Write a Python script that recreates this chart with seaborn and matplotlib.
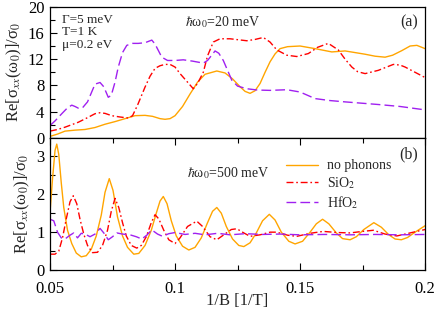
import numpy as np
import pandas as pd
import matplotlib
matplotlib.use("Agg")
import matplotlib.pyplot as plt
import seaborn as sns
from matplotlib.ticker import MultipleLocator, FuncFormatter

# --- panel (a): hbar*omega0 = 20 meV ---
a_nophon_x = [0.050, 0.053, 0.056, 0.060, 0.064, 0.068, 0.072, 0.076, 0.080, 0.084,
              0.088, 0.091, 0.094, 0.096, 0.098, 0.100, 0.103, 0.106, 0.109, 0.112,
              0.1167, 0.120, 0.123, 0.126, 0.128, 0.130, 0.132, 0.134, 0.136, 0.138,
              0.140, 0.142, 0.145, 0.150, 0.156, 0.1627, 0.168, 0.172, 0.176, 0.180,
              0.184, 0.187, 0.1907, 0.194, 0.1967, 0.200]
a_nophon_y = [0.25, 0.6, 1.05, 1.2, 1.3, 1.6, 2.1, 2.5, 2.95, 3.4,
              3.45, 3.3, 2.95, 2.85, 2.95, 3.4, 4.8, 6.7, 8.5, 9.7,
              10.2, 9.9, 9.0, 7.8, 7.1, 6.8, 7.2, 8.3, 10.0, 11.6,
              12.8, 13.6, 13.9, 14.0, 13.6, 13.1, 13.25, 13.0, 12.75, 12.45,
              12.3, 12.6, 13.3, 14.0, 14.1, 13.6]

a_sio2_x = [0.050, 0.053, 0.056, 0.0613, 0.065, 0.068, 0.070, 0.072, 0.0747, 0.078,
            0.0813, 0.083, 0.085, 0.088, 0.090, 0.092, 0.094, 0.096, 0.098, 0.100,
            0.102, 0.105, 0.1073, 0.109, 0.1113, 0.113, 0.1153, 0.118, 0.122, 0.1287,
            0.132, 0.1353, 0.138, 0.1407, 0.1447, 0.1487, 0.1533, 0.157, 0.1613, 0.1653,
            0.168, 0.1707, 0.173, 0.176, 0.1813, 0.1873, 0.190, 0.192, 0.196, 0.200]
a_sio2_y = [1.05, 1.3, 1.65, 2.4, 3.1, 3.7, 3.85, 3.75, 3.4, 3.2,
            3.05, 3.4, 5.0, 7.75, 9.4, 10.6, 11.0, 11.2, 11.2, 10.8,
            9.8, 8.5, 7.5, 8.3, 10.0, 12.5, 14.6, 15.1, 15.1, 14.8,
            15.0, 15.3, 14.6, 13.4, 12.6, 12.4, 12.85, 13.8, 14.4, 13.4,
            12.0, 10.8, 10.1, 9.8, 10.3, 11.2, 11.1, 10.8, 10.0, 9.2]

a_hfo2_x = [0.050, 0.052, 0.0547, 0.057, 0.0587, 0.060, 0.0613, 0.063, 0.065, 0.068,
            0.070, 0.0715, 0.0733, 0.0745, 0.076, 0.0773, 0.079, 0.0807, 0.083, 0.0853,
            0.088, 0.0907, 0.092, 0.0947, 0.097, 0.100, 0.1033, 0.107, 0.1113, 0.113,
            0.116, 0.1175, 0.1193, 0.1227, 0.125, 0.1287, 0.133, 0.138, 0.1447, 0.150,
            0.156, 0.162, 0.168, 0.1813, 0.190, 0.1987, 0.200]
a_hfo2_y = [1.9, 2.6, 3.7, 4.6, 5.0, 4.8, 4.55, 4.6, 5.5, 8.2,
            8.45, 7.8, 6.2, 6.5, 8.5, 10.8, 13.0, 14.1, 14.4, 14.4,
            14.5, 14.9, 14.3, 12.3, 11.8, 11.8, 11.9, 11.7, 11.4, 11.8,
            13.25, 12.9, 11.8, 8.8, 7.9, 7.5, 7.3, 7.25, 7.35, 7.0,
            6.0, 5.7, 5.5, 5.1, 4.8, 4.35, 4.3]

# --- panel (b): hbar*omega0 = 500 meV ---
b_nophon_x = [0.0500, 0.0510, 0.0520, 0.0527, 0.0535, 0.0545, 0.0555, 0.0570, 0.0587, 0.0605,
              0.0625, 0.0645, 0.0665, 0.0685, 0.0705, 0.0720, 0.0737, 0.0752, 0.0770, 0.0790,
              0.0810, 0.0835, 0.0855, 0.0880, 0.0905, 0.0925, 0.0940, 0.0953, 0.0968, 0.0985,
              0.1005, 0.1030, 0.1055, 0.1080, 0.1105, 0.1130, 0.1150, 0.1167, 0.1185, 0.1205,
              0.1230, 0.1255, 0.1275, 0.1300, 0.1325, 0.1350, 0.1377, 0.1400, 0.1425, 0.1455,
              0.1480, 0.1510, 0.1540, 0.1565, 0.1590, 0.1615, 0.1645, 0.1670, 0.1700, 0.1725,
              0.1755, 0.1795, 0.1825, 0.1855, 0.1880, 0.1905, 0.1930, 0.1960, 0.2000]
b_nophon_y = [1.52, 2.4, 3.15, 3.32, 3.05, 2.3, 1.65, 1.05, 0.7, 0.45,
              0.35, 0.38, 0.55, 0.9, 1.45, 2.05, 2.41, 2.1, 1.4, 0.9,
              0.6, 0.42, 0.44, 0.65, 1.05, 1.5, 1.82, 1.94, 1.75, 1.3,
              0.9, 0.63, 0.53, 0.6, 0.85, 1.25, 1.55, 1.65, 1.5, 1.15,
              0.82, 0.65, 0.62, 0.72, 0.98, 1.3, 1.47, 1.32, 1.0, 0.76,
              0.69, 0.76, 1.0, 1.22, 1.34, 1.22, 0.98, 0.83, 0.80, 0.88,
              1.07, 1.25, 1.13, 0.93, 0.82, 0.80, 0.86, 1.0, 1.17]

b_sio2_x = [0.0500, 0.0520, 0.0535, 0.0550, 0.0565, 0.0580, 0.0593, 0.0607, 0.0620, 0.0635,
            0.0650, 0.0670, 0.0690, 0.0710, 0.0730, 0.0745, 0.0760, 0.0775, 0.0790, 0.0805,
            0.0825, 0.0847, 0.0865, 0.0885, 0.0905, 0.0920, 0.0935, 0.0955, 0.0975, 0.1000,
            0.1020, 0.1050, 0.1087, 0.1110, 0.1140, 0.1167, 0.1195, 0.1225, 0.1247, 0.1275,
            0.1300, 0.1340, 0.1380, 0.1407, 0.1450, 0.1487, 0.1540, 0.1593, 0.1650, 0.1700,
            0.1750, 0.1793, 0.1840, 0.1887, 0.1940, 0.2000]
b_sio2_y = [0.42, 0.42, 0.5, 0.85, 1.35, 1.8, 1.96, 1.75, 1.34, 0.95,
            0.65, 0.46, 0.47, 0.65, 1.05, 1.55, 1.89, 1.65, 1.25, 0.9,
            0.65, 0.58, 0.65, 0.88, 1.25, 1.46, 1.35, 1.05, 0.8, 0.7,
            0.85, 1.15, 1.29, 1.15, 0.88, 0.8, 0.93, 1.07, 1.09, 0.98,
            0.89, 0.93, 1.0, 1.0, 0.92, 0.89, 0.97, 1.02, 0.99, 0.98,
            1.02, 1.05, 0.95, 0.9, 0.98, 1.07]

b_hfo2_x = [0.0500, 0.0515, 0.0530, 0.0545, 0.0560, 0.0580, 0.0595, 0.0610, 0.0625, 0.0640,
            0.0660, 0.0680, 0.0700, 0.0715, 0.0733, 0.0750, 0.0767, 0.0790, 0.0820, 0.0845,
            0.0867, 0.0887, 0.0907, 0.0930, 0.0950, 0.0975, 0.1000, 0.1040, 0.1080, 0.1120,
            0.1170, 0.1220, 0.1280, 0.1350, 0.1420, 0.1500, 0.1600, 0.1700, 0.1800, 0.1900,
            0.2000]
b_hfo2_y = [1.34, 1.30, 1.0, 0.85, 0.82, 0.92, 0.98, 0.85, 0.97, 0.95,
            0.88, 0.95, 1.10, 0.98, 0.80, 0.88, 0.98, 0.95, 0.93, 0.88,
            0.82, 0.92, 1.06, 0.95, 0.89, 0.96, 0.99, 0.94, 0.97, 0.93,
            0.97, 0.93, 0.96, 0.94, 0.95, 0.93, 0.94, 0.93, 0.94, 0.93,
            0.94]

labels = ["no phonons", "SiO$_2$", "HfO$_2$"]
colors = ["#FFA500", "#FF0000", "#A020F0"]
styles = ["-", (0, (5, 2, 1.2, 2)), (0, (7, 3))]

sns.set_style("ticks")
plt.rcParams["font.family"] = ["Liberation Serif", "DejaVu Serif"]
plt.rcParams["mathtext.fontset"] = "stix"
plt.rcParams["axes.linewidth"] = 0.9

fig = plt.figure(figsize=(4.36, 3.13), dpi=100)
ax1 = fig.add_axes([0.1147, 0.559, 0.8603, 0.420])
ax2 = fig.add_axes([0.1147, 0.137, 0.8603, 0.422])

panel_a = [(a_nophon_x, a_nophon_y), (a_sio2_x, a_sio2_y), (a_hfo2_x, a_hfo2_y)]
panel_b = [(b_nophon_x, b_nophon_y), (b_sio2_x, b_sio2_y), (b_hfo2_x, b_hfo2_y)]

for (xs, ys), c, ls in zip(panel_a, colors, styles):
    df = pd.DataFrame({"x": xs, "y": ys})
    sns.lineplot(data=df, x="x", y="y", ax=ax1, color=c, linestyle=ls,
                 linewidth=1.0, estimator=None, sort=False, legend=False)

for (xs, ys), c, ls, lab in zip(panel_b, colors, styles, labels):
    df = pd.DataFrame({"x": xs, "y": ys})
    sns.lineplot(data=df, x="x", y="y", ax=ax2, color=c, linestyle=ls,
                 linewidth=1.0, estimator=None, sort=False, label=lab)

fmt = FuncFormatter(lambda v, p: f"{v:g}")
for ax in (ax1, ax2):
    ax.set_xlim(0.05, 0.2)
    ax.xaxis.set_major_locator(MultipleLocator(0.05))
    ax.xaxis.set_minor_locator(MultipleLocator(0.025))
    ax.xaxis.set_major_formatter(fmt)
    ax.tick_params(which="both", direction="in", colors="black", labelsize=12)
    ax.tick_params(which="major", length=5, width=0.8)
    ax.tick_params(which="minor", length=3.5, width=0.8)
    ax.tick_params(axis="y", pad=4)
    ax.tick_params(axis="x", pad=8)
    ax.set_ylabel("Re[σ$_{xx}$(ω$_0$)]/σ$_0$", fontsize=12, labelpad=3)
    for s in ax.spines.values():
        s.set_color("black")

ax1.set_ylim(0, 20)
ax1.yaxis.set_major_locator(MultipleLocator(4))
ax1.yaxis.set_minor_locator(MultipleLocator(2))
ax1.tick_params(axis="x", which="both", bottom=False, labelbottom=False)
ax1.set_xlabel("")

ax2.set_ylim(0, 3.48)
ax2.yaxis.set_major_locator(MultipleLocator(1))
ax2.yaxis.set_minor_locator(MultipleLocator(0.5))
ax2.tick_params(axis="x", which="both", top=True)
ax2.set_xlabel("1/B [1/T]", fontsize=12, labelpad=-3)

ax1.text(0.031, 0.90, "Γ=5 meV", transform=ax1.transAxes, fontsize=9.5, va="center")
ax1.text(0.031, 0.805, "T=1 K", transform=ax1.transAxes, fontsize=9.5, va="center")
ax1.text(0.031, 0.71, "μ=0.2 eV", transform=ax1.transAxes, fontsize=9.5, va="center")
ax1.text(0.36, 0.884, r"$\hbar$ω$_0$=20 meV", transform=ax1.transAxes, fontsize=10, va="center")
ax1.text(0.981, 0.882, "(a)", transform=ax1.transAxes, fontsize=11.5, va="center", ha="right")

ax2.text(0.365, 0.735, r"$\hbar$ω$_0$=500 meV", transform=ax2.transAxes, fontsize=10, va="center")
ax2.text(0.981, 0.879, "(b)", transform=ax2.transAxes, fontsize=11.5, va="center", ha="right")

ax2.legend(loc="upper left", bbox_to_anchor=(0.615, 0.88), frameon=False, fontsize=10,
           handlelength=2.3, handletextpad=0.6, labelspacing=0.2, borderaxespad=0)

fig.savefig("out.png", dpi=100)
